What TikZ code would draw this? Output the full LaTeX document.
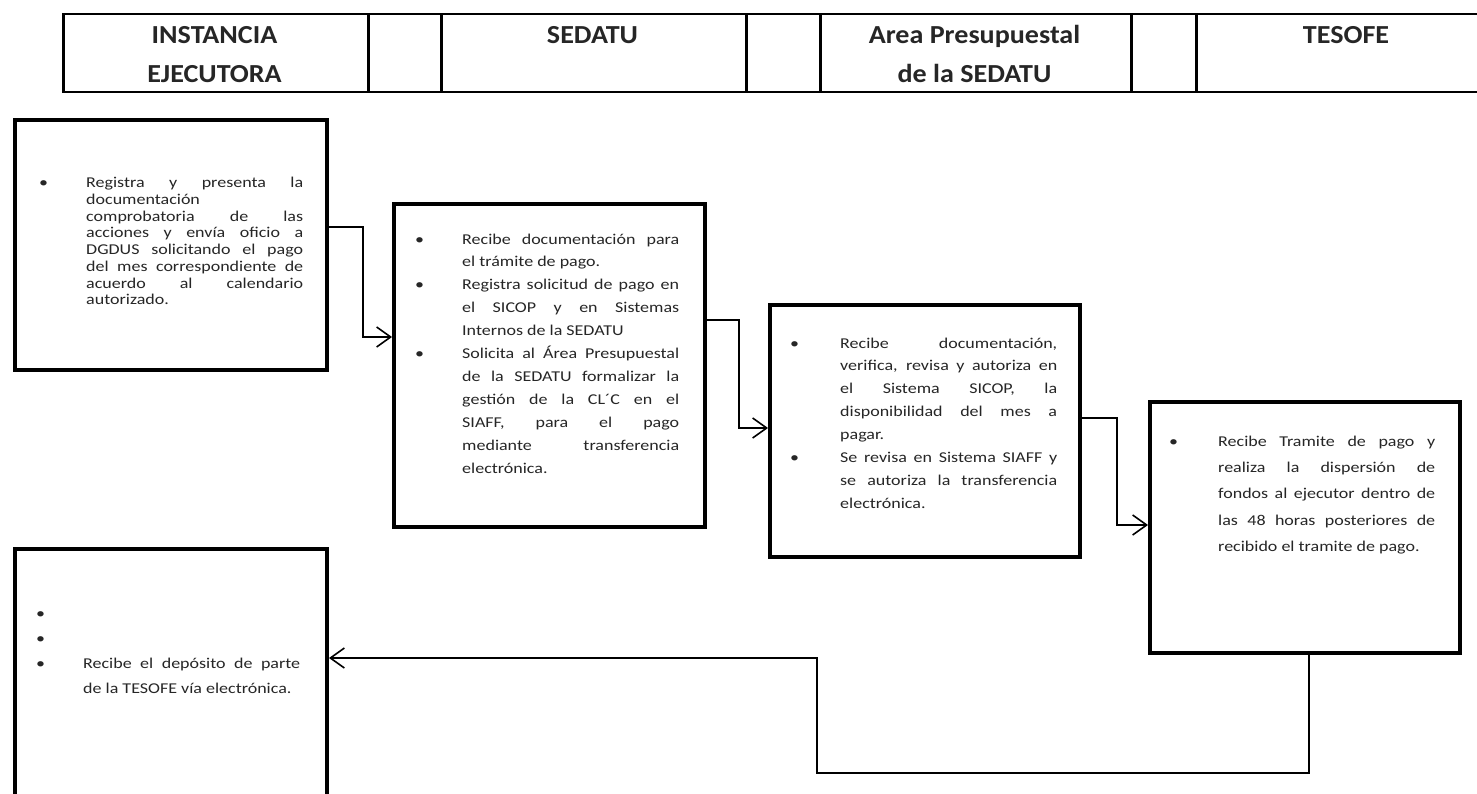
\documentclass[tikz,border=0pt]{standalone}
\usepackage{fontspec}
\setmainfont{Carlito}[FakeStretch=1.2]
\newfontfamily\hdrfont{Carlito}[FakeStretch=1.08]
\usetikzlibrary{arrows.meta}
\newlength\bind
\newcommand\bitem[1]{\par\noindent\hangindent=\bind\hangafter=1\makebox[\bind][l]{\textbullet}#1\par}
\tikzset{
  cell/.style={draw, line width=2.5pt, anchor=north west, minimum height=78pt, inner sep=0pt},
  hdr/.style={anchor=base, inner sep=0pt, font=\hdrfont\fontsize{26}{30}\selectfont\bfseries, text=black!85},
  box/.style={draw, line width=4pt, anchor=north west, inner sep=0pt},
  txt/.style={anchor=north west, inner sep=0pt, text width=#1, align=justify, text=black!85},
  conn/.style={line width=1.6pt, -{Straight Barb[length=14pt,width=20pt,line width=1.6pt]}},
  plain/.style={line width=1.6pt}
}
\begin{document}
\begin{tikzpicture}[x=1pt,y=-1pt]
\useasboundingbox (0,0) rectangle (1477,794);
\clip (0,0) rectangle (1477,794);
\fill[white] (0,0) rectangle (1477,794);
% header
\node[cell, minimum width=305pt] (c1) at (62,13) {};
\node[cell, minimum width=73pt]  (c2) at (367,13) {};
\node[cell, minimum width=305pt] (c3) at (440,13) {};
\node[cell, minimum width=74pt]  (c4) at (745,13) {};
\node[cell, minimum width=311pt] (c5) at (819,13) {};
\node[cell, minimum width=65pt]  (c6) at (1130,13) {};
\node[cell, minimum width=302pt] (c7) at (1195,13) {};
\node[hdr] (h1a) at (214.5,44) {INSTANCIA};
\node[hdr] (h1b) at (214.5,83) {EJECUTORA};
\node[hdr] (h3) at (592.5,44) {SEDATU};
\node[hdr] (h5a) at (974.5,44) {Area Presupuestal};
\node[hdr] (h5b) at (974.5,83) {de la SEDATU};
\node[hdr] (h7) at (1346,44) {TESOFE};
% boxes
\node[box, minimum width=312pt, minimum height=250pt] (B1) at (13,118) {};
\node[box, minimum width=311pt, minimum height=323pt] (B2) at (392,202) {};
\node[box, minimum width=310pt, minimum height=252pt] (B3) at (768,303) {};
\node[box, minimum width=310pt, minimum height=251pt] (B4) at (1148,400) {};
\node[box, minimum width=312pt, minimum height=260pt] (B5) at (13,547) {};
% texts
\node[txt=264pt, font=\fontsize{15}{16.7}\selectfont] (T1) at (39,171) {\setlength\bind{47pt}%
\bitem{Registra y presenta la\linebreak documentación\newline comprobatoria de las\linebreak acciones y envía oficio a\linebreak DGDUS solicitando el pago\linebreak del mes correspondiente de\linebreak acuerdo al calendario\linebreak autorizado.}};
\node[txt=264pt, font=\fontsize{15}{22.9}\selectfont] (T2) at (415,221) {\setlength\bind{47pt}%
\bitem{Recibe documentación para\linebreak el trámite de pago.}
\bitem{Registra solicitud de pago en\linebreak el SICOP y en Sistemas\linebreak Internos de la SEDATU}
\bitem{Solicita al Área Presupuestal\linebreak de la SEDATU formalizar la\linebreak gestión de la CL´C en el\linebreak SIAFF, para el pago\linebreak mediante transferencia\linebreak electrónica.}};
\node[txt=267pt, font=\fontsize{15}{22.9}\selectfont] (T3) at (790,325) {\setlength\bind{50pt}%
\bitem{Recibe documentación,\linebreak verifica, revisa y autoriza en\linebreak el Sistema SICOP, la\linebreak disponibilidad del mes a\linebreak pagar.}
\bitem{Se revisa en Sistema SIAFF y\linebreak se autoriza la transferencia\linebreak electrónica.}};
\node[txt=266pt, font=\fontsize{15}{26.2}\selectfont] (T4) at (1169,420) {\setlength\bind{49pt}%
\bitem{Recibe Tramite de pago y\linebreak realiza la dispersión de\linebreak fondos al ejecutor dentro de\linebreak las 48 horas posteriores de\linebreak recibido el tramite de pago.}};
\node[txt=264pt, font=\fontsize{15}{25}\selectfont] (T5) at (36,593) {\setlength\bind{47pt}%
\bitem{\strut}
\bitem{\strut}
\bitem{Recibe el depósito de parte\linebreak de la TESOFE vía electrónica.}};
% connectors
\draw[conn] ([yshift=-109pt]B1.north east) -- ++(34,0) |- ([yshift=-135pt]B2.north west);
\draw[conn] ([yshift=-118pt]B2.north east) -- ++(32,0) |- ([yshift=-125pt]B3.north west);
\draw[conn] ([yshift=-115pt]B3.north east) -- ++(35,0) |- ([yshift=-125pt]B4.north west);
\coordinate (k1) at (817,773);
\draw[conn] ([xshift=4pt]B4.south) |- (k1) |- ([yshift=-111pt]B5.north east);
\end{tikzpicture}
\end{document}
